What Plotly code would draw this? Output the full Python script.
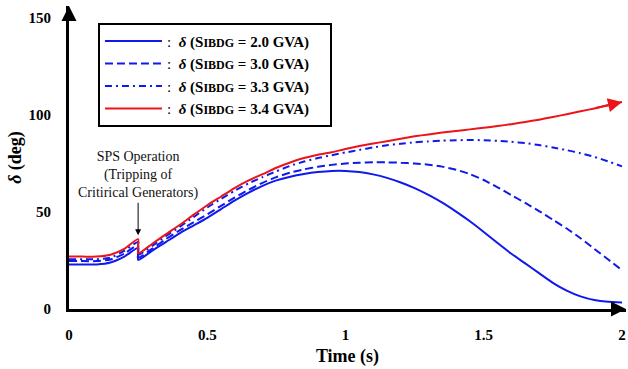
import plotly.graph_objects as go

# time axis (0.25 s appears twice: before / after SPS tripping)
T = [0, 0.05, 0.1, 0.15, 0.2, 0.25, 0.25, 0.3, 0.35, 0.4, 0.45, 0.5, 0.55, 0.6, 0.65, 0.7,
     0.75, 0.8, 0.85, 0.9, 0.95, 1.0, 1.05, 1.1, 1.15, 1.2, 1.25, 1.3, 1.35, 1.4, 1.45,
     1.5, 1.55, 1.6, 1.65, 1.7, 1.75, 1.8, 1.85, 1.9, 1.95, 2.0]

d_20 = [23, 23, 23, 24, 27, 31.5, 25.3, 30, 34.5, 39, 43, 47, 51.5, 56, 60, 63.5,
        66.3, 68.2, 69.6, 70.6, 71.2, 71.2, 70.6, 69.4, 67.6, 65.2, 62.3, 58.8, 54.8, 50.2, 45.2,
        39.7, 34, 28.5, 23.5, 18.5, 13.5, 9.5, 6.5, 4.6, 3.7, 3.4]
d_30 = [24.7, 24.7, 24.7, 25.5, 28.5, 33, 26.5, 31, 36, 40.5, 44.7, 48.8, 53.2, 57.5, 61.5, 65,
        68, 70.3, 72, 73.3, 74.3, 75, 75.4, 75.6, 75.6, 75.4, 75, 74.4, 73.4, 71.8, 69.5,
        66.5, 62.7, 58.7, 54.7, 50.5, 46, 41.5, 36.5, 31, 25.5, 20]
d_33 = [25.7, 25.7, 25.7, 26.5, 30, 34.5, 28, 32.5, 37.5, 42.3, 47.3, 52.3, 56.8, 61, 64.8, 68,
        71, 73.8, 76, 77.8, 79.3, 80.7, 82, 83.3, 84.4, 85.2, 85.9, 86.4, 86.8, 87, 87.1,
        87, 86.7, 86.2, 85.5, 84.5, 83.3, 81.9, 80.3, 78.4, 76.1, 73.5]
d_34 = [27, 27, 27, 28, 31, 36, 28.7, 33.5, 38.5, 43.3, 48.5, 53.5, 58, 62.5, 66.3, 69.5,
        72.8, 75.5, 77.8, 79.5, 80.8, 82.5, 84, 85.3, 86.5, 87.8, 89, 90, 91, 91.8, 92.6,
        93.4, 94.3, 95.3, 96.4, 97.6, 99, 100.4, 101.9, 103.4, 105, 106.7]

x_ticks = [0, 0.5, 1, 1.5, 2]
x_tick_text = ["0", "0.5", "1", "1.5", "2"]
y_ticks = [0, 50, 100, 150]
y_tick_text = ["0", "50", "100", "150"]

BLUE = "rgb(15,25,235)"
RED = "rgb(235,20,25)"
FONT = "Liberation Serif"

def lbl(v):
    return (":  <b><i>δ</i> (S<span style='font-size:12px'>IBDG</span> = "
            + v + " GVA)</b>&nbsp;&nbsp;&nbsp;&nbsp;")

LS = dict(shape="spline", smoothing=0.6)

fig = go.Figure()
fig.add_trace(go.Scatter(x=T, y=d_20, mode="lines", name=lbl("2.0"),
                         line=dict(color=BLUE, width=2, **LS)))
fig.add_trace(go.Scatter(x=T, y=d_30, mode="lines", name=lbl("3.0"),
                         line=dict(color=BLUE, width=2, dash="8px,4px", **LS)))
fig.add_trace(go.Scatter(x=T, y=d_33, mode="lines", name=lbl("3.3"),
                         line=dict(color=BLUE, width=2, dash="7px,4px,2px,4px", **LS)))
fig.add_trace(go.Scatter(x=T, y=d_34, mode="lines", name=lbl("3.4"),
                         line=dict(color=RED, width=2, **LS)))

annotations = [
    # red arrow head at end of 3.4 GVA curve
    dict(x=T[-1], y=d_34[-1], ax=T[-3], ay=d_34[-3], xref="x", yref="y",
         axref="x", ayref="y", showarrow=True, arrowhead=2, arrowsize=1.4,
         arrowwidth=2, arrowcolor=RED, text=""),
    # SPS operation
    dict(x=0.25, y=38, xref="x", yref="y", ax=0, ay=-60,
         text="SPS Operation<br>(Tripping of<br>Critirical Generators)",
         showarrow=True, arrowhead=2, arrowsize=1.2, arrowwidth=1, arrowcolor="black",
         font=dict(family=FONT, size=14, color="#111"), align="center"),
    # axis arrows
    dict(x=0, y=1, xref="paper", yref="paper", ax=0, ay=12, showarrow=True,
         arrowhead=2, arrowsize=1, arrowwidth=3, arrowcolor="black", text=""),
    dict(x=1, y=0, xref="paper", yref="paper", ax=-12, ay=0, showarrow=True,
         arrowhead=2, arrowsize=1, arrowwidth=3, arrowcolor="black", text=""),
]

fig.update_layout(
    width=628, height=369,
    margin=dict(l=69, r=2, t=6, b=60),
    paper_bgcolor="white", plot_bgcolor="white",
    font=dict(family=FONT, size=15, color="black"),
    showlegend=True,
    legend=dict(x=0.052, y=0.945, xanchor="left", yanchor="top",
                bordercolor="black", borderwidth=2, bgcolor="white",
                itemwidth=57,
                font=dict(family=FONT, size=15, color="black")),
    annotations=annotations,
    xaxis=dict(range=[0, 2.0145], tickvals=x_ticks, ticktext=x_tick_text,
               showgrid=False, zeroline=False, showline=True, linewidth=3,
               linecolor="black", ticks="", ticklabelstandoff=10,
               tickfont=dict(family=FONT, size=15, color="black", weight="bold"),
               title=dict(text="<b>Time (s)</b>", font=dict(family=FONT, size=18),
                          standoff=8)),
    yaxis=dict(range=[0, 156.2], tickvals=y_ticks, ticktext=y_tick_text,
               showgrid=False, zeroline=False, showline=True, linewidth=3,
               linecolor="black", ticks="", ticklabelstandoff=12,
               tickfont=dict(family=FONT, size=15, color="black", weight="bold"),
               title=dict(text="<b><i>δ</i> (deg)</b>", font=dict(family=FONT, size=18),
                          standoff=3)),
)

fig.write_html("out.html", config={"displayModeBar": False},
               post_script="document.body.style.margin='0';")
